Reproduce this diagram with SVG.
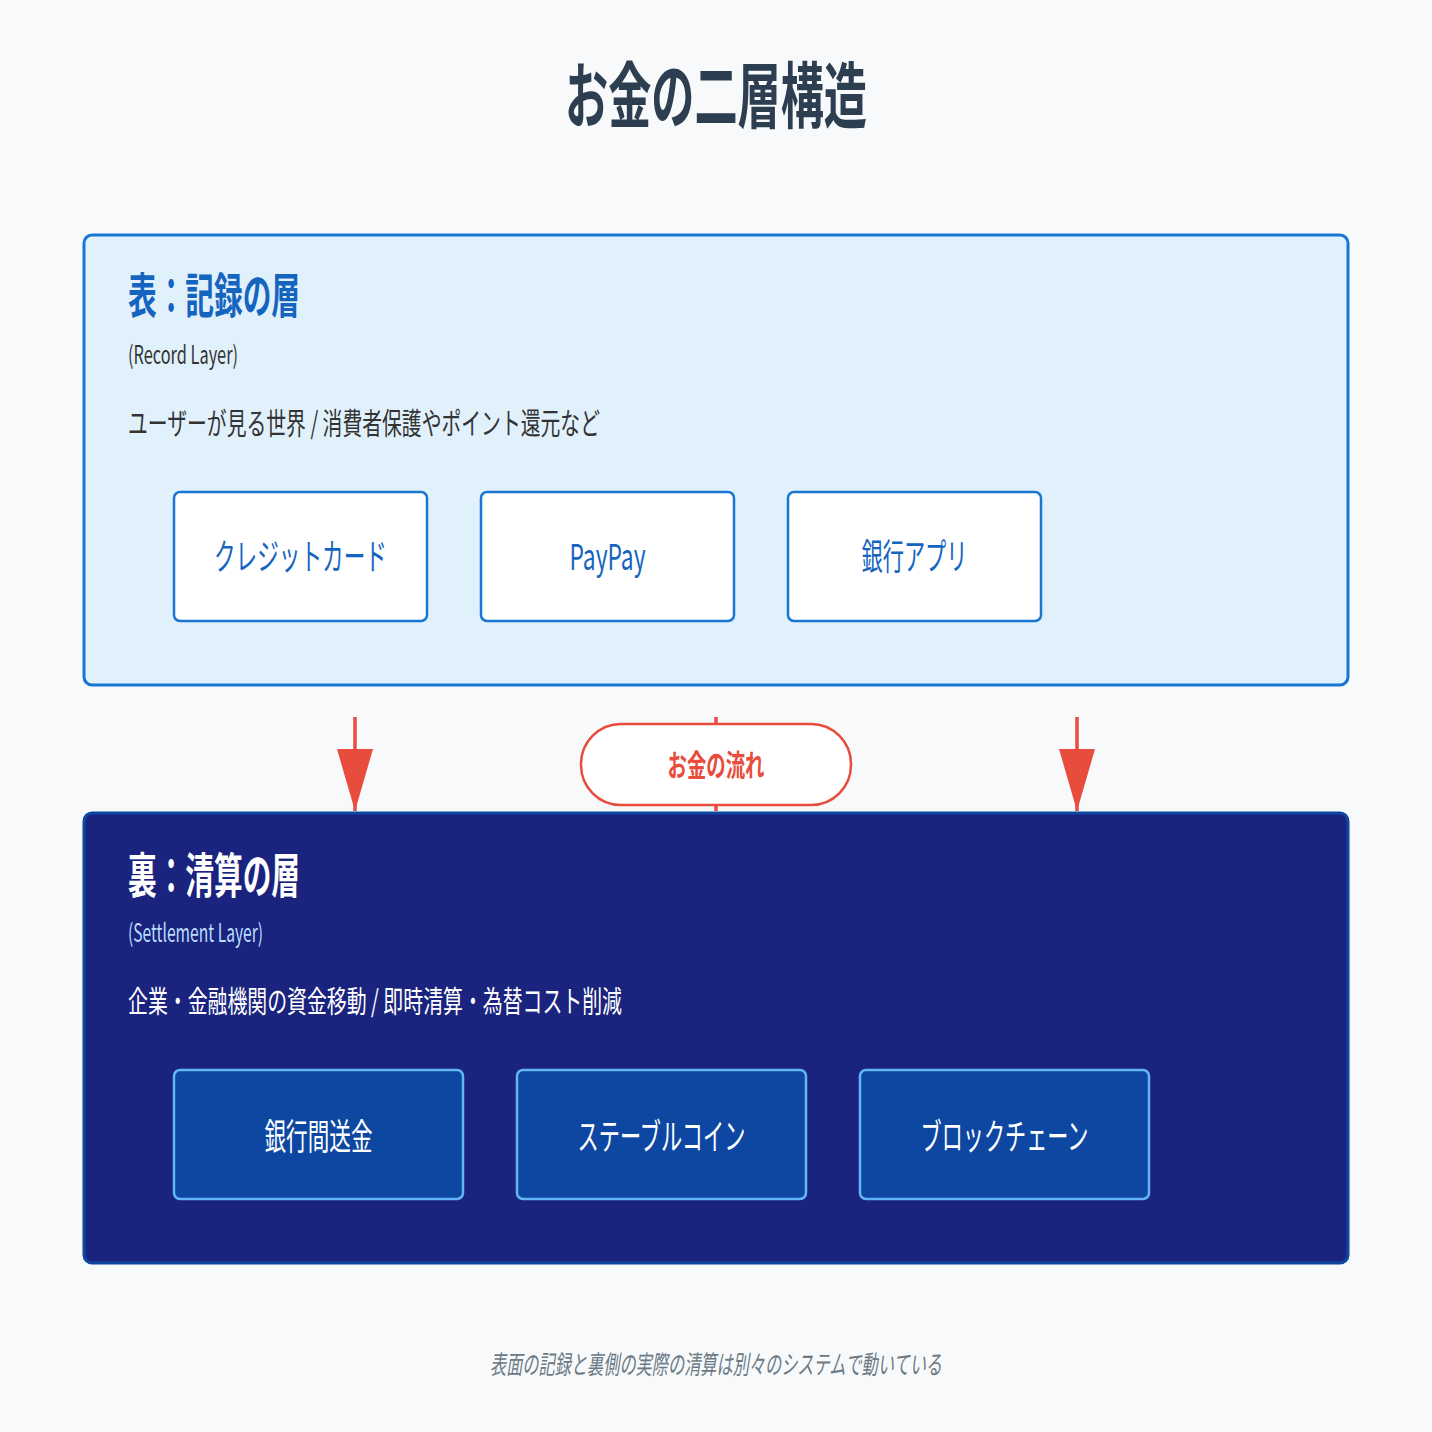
<svg xmlns="http://www.w3.org/2000/svg" width="1432" height="1432" viewBox="0 0 1432 1432">
  <defs>
    <style>
      text { font-family: "Noto Sans CJK JP", "Noto Sans", sans-serif; }
      .title { font-size: 72px; font-weight: 700; fill: #2c3e50; }
      .ptitle-top { font-size: 48px; font-weight: 700; fill: #1565c0; }
      .ptitle-bot { font-size: 48px; font-weight: 700; fill: #ffffff; }
      .sub-top { font-size: 25px; fill: #333333; }
      .sub-bot { font-size: 25px; fill: #bbdefb; }
      .desc-top { font-size: 30px; fill: #333333; }
      .desc-bot { font-size: 30px; fill: #ffffff; }
      .box-top { fill: #ffffff; stroke: #1976d2; stroke-width: 2.5; }
      .box-bot { fill: #0d47a1; stroke: #64b5f6; stroke-width: 2.5; }
      .lbl-top { font-size: 36px; fill: #1565c0; text-anchor: middle; }
      .lbl-bot { font-size: 36px; fill: #ffffff; text-anchor: middle; }
      .flow { stroke: #e74c3c; stroke-width: 3.5; fill: none; }
      .caption { font-size: 26px; font-style: italic; fill: #6b7a85; text-anchor: middle; }
    </style>
    <marker id="arrow" markerWidth="62" markerHeight="36" refX="62" refY="18" orient="auto" markerUnits="userSpaceOnUse" viewBox="0 0 62 36">
      <path d="M0,0 L62,18 L0,36 Z" fill="#e74c3c"/>
    </marker>
  </defs>

  <rect x="0" y="0" width="1432" height="1432" fill="#f7f9fb"/>

  <text class="title" x="716" y="122" text-anchor="middle" textLength="302" lengthAdjust="spacingAndGlyphs">お金の二層構造</text>

  <g id="record-layer">
    <rect x="84" y="235" width="1264" height="450" rx="8" fill="#e1f1fc" stroke="#1976d2" stroke-width="3"/>
    <text class="ptitle-top" x="128" y="313" textLength="172" lengthAdjust="spacingAndGlyphs">表：記録の層</text>
    <text class="sub-top" x="128" y="364" textLength="110" lengthAdjust="spacingAndGlyphs">(Record Layer)</text>
    <text class="desc-top" x="128" y="434" textLength="472" lengthAdjust="spacingAndGlyphs">ユーザーが見る世界 / 消費者保護やポイント還元など</text>
  </g>

  <g id="node-credit">
    <rect class="box-top" x="174" y="492" width="253" height="129" rx="6"/>
    <text class="lbl-top" x="300.5" y="570" textLength="173" lengthAdjust="spacingAndGlyphs">クレジットカード</text>
  </g>
  <g id="node-paypay">
    <rect class="box-top" x="481" y="492" width="253" height="129" rx="6"/>
    <text class="lbl-top" x="607.5" y="570" textLength="76" lengthAdjust="spacingAndGlyphs">PayPay</text>
  </g>
  <g id="node-bankapp">
    <rect class="box-top" x="788" y="492" width="253" height="129" rx="6"/>
    <text class="lbl-top" x="914.5" y="570" textLength="106" lengthAdjust="spacingAndGlyphs">銀行アプリ</text>
  </g>

  <g id="settlement-layer">
    <rect x="84" y="813" width="1264" height="450" rx="8" fill="#1a237e" stroke="#0d47a1" stroke-width="3"/>
    <text class="ptitle-bot" x="128" y="893" textLength="172" lengthAdjust="spacingAndGlyphs">裏：清算の層</text>
    <text class="sub-bot" x="128" y="942" textLength="135" lengthAdjust="spacingAndGlyphs">(Settlement Layer)</text>
    <text class="desc-bot" x="128" y="1012" textLength="494" lengthAdjust="spacingAndGlyphs">企業・金融機関の資金移動 / 即時清算・為替コスト削減</text>
  </g>

  <g id="node-interbank">
    <rect class="box-bot" x="174" y="1070" width="289" height="129" rx="6"/>
    <text class="lbl-bot" x="318.5" y="1150" textLength="108" lengthAdjust="spacingAndGlyphs">銀行間送金</text>
  </g>
  <g id="node-stablecoin">
    <rect class="box-bot" x="517" y="1070" width="289" height="129" rx="6"/>
    <text class="lbl-bot" x="661.5" y="1150" textLength="168" lengthAdjust="spacingAndGlyphs">ステーブルコイン</text>
  </g>
  <g id="node-blockchain">
    <rect class="box-bot" x="860" y="1070" width="289" height="129" rx="6"/>
    <text class="lbl-bot" x="1004.5" y="1150" textLength="168" lengthAdjust="spacingAndGlyphs">ブロックチェーン</text>
  </g>

  <g id="connectors">
    <line class="flow" x1="355" y1="717" x2="355" y2="811" marker-end="url(#arrow)"/>
    <line class="flow" x1="1077" y1="717" x2="1077" y2="811" marker-end="url(#arrow)"/>
    <line class="flow" x1="716" y1="717" x2="716" y2="811"/>
  </g>

  <g id="flow-label">
    <rect x="581" y="724" width="270" height="81" rx="40" fill="#ffffff" stroke="#e74c3c" stroke-width="2.5"/>
    <text x="716" y="776" font-size="30" font-weight="700" fill="#e74c3c" text-anchor="middle" textLength="97" lengthAdjust="spacingAndGlyphs">お金の流れ</text>
  </g>

  <text class="caption" x="716" y="1374" textLength="452" lengthAdjust="spacingAndGlyphs">表面の記録と裏側の実際の清算は別々のシステムで動いている</text>
</svg>
